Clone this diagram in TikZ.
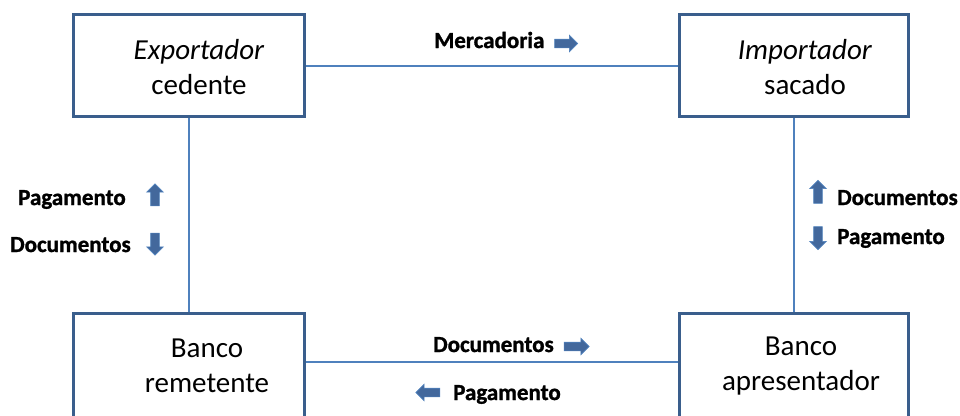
\documentclass[tikz,border=0pt]{standalone}
\usepackage{fontspec}
\setmainfont{Carlito}
\newfontfamily\lblfont[FakeBold=1.2]{Carlito Bold}
\usetikzlibrary{shapes.arrows,calc}
\definecolor{boxline}{HTML}{3A5E8C}
\definecolor{connc}{HTML}{4F81BD}
\definecolor{arrfill}{HTML}{43689C}
\tikzset{
 box/.style={draw=boxline, line width=3pt, minimum height=102pt, inner sep=0pt},
 boxtext/.style={align=center, font=\fontsize{29}{35}\selectfont, inner sep=0pt},
 lbl/.style={font=\fontsize{23}{26}\lblfont, inner sep=0pt},
 connline/.style={draw=connc, line width=2pt},
 blockarrow/.style={single arrow, fill=arrfill, draw=connc, line width=0.6pt, minimum height=#1, minimum width=16pt, single arrow head extend=4pt, inner sep=4pt},
}
\begin{document}
\begin{tikzpicture}[x=1pt,y=-1pt]
\clip (0,0) rectangle (960,415);
\node[box, minimum width=231pt] (exp) at (189,65.5) {};
\node[box, minimum width=228.5pt] (imp) at (793.75,65.5) {};
\node[box, minimum width=231pt, minimum height=120pt] (rem) at (189,373.5) {};
\node[box, minimum width=228.5pt, minimum height=120pt] (apr) at (793.75,373.5) {};
\draw[connline] (exp.east) -- (imp.west);
\draw[connline] (exp.south) -- (rem.north);
\draw[connline] (imp.south) -- (apr.north);
\draw[connline] ($(rem.north east)+(0,49.5)$) -- ($(apr.north west)+(0,49.5)$);
\node[boxtext] (expt) at (199,67) {\textit{Exportador}\\cedente};
\node[boxtext] (impt) at (805,67) {\textit{Importador}\\sacado};
\node[boxtext] (remt) at (207,366) {Banco\\remetente};
\node[boxtext] (aprt) at (801,366) {Banco\\apresentador};
\node[lbl, anchor=base west] (lmerc) at (434,48) {Mercadoria};
\node[blockarrow=23pt] (amerc) at (564,43.5) {};
\node[lbl, anchor=base west] (lpag1) at (18,205) {Pagamento};
\node[blockarrow=22pt, shape border rotate=90] (apag1) at (155,197) {};
\node[lbl, anchor=base west] (ldoc1) at (10,252) {Documentos};
\node[blockarrow=22pt, shape border rotate=270] (adoc1) at (155,242) {};
\node[blockarrow=23pt, shape border rotate=90] (adoc2) at (818,194) {};
\node[lbl, anchor=base west] (ldoc2) at (837,205) {Documentos};
\node[blockarrow=23pt, shape border rotate=270] (apag2) at (818,236) {};
\node[lbl, anchor=base west] (lpag2) at (837,244) {Pagamento};
\node[lbl, anchor=base west] (ldoc3) at (433,352) {Documentos};
\node[blockarrow=25pt] (adoc3) at (574.5,346.5) {};
\node[blockarrow=24pt, shape border rotate=180] (apag3) at (430,392.5) {};
\node[lbl, anchor=base west] (lpag3) at (453,400) {Pagamento};
\end{tikzpicture}
\end{document}
